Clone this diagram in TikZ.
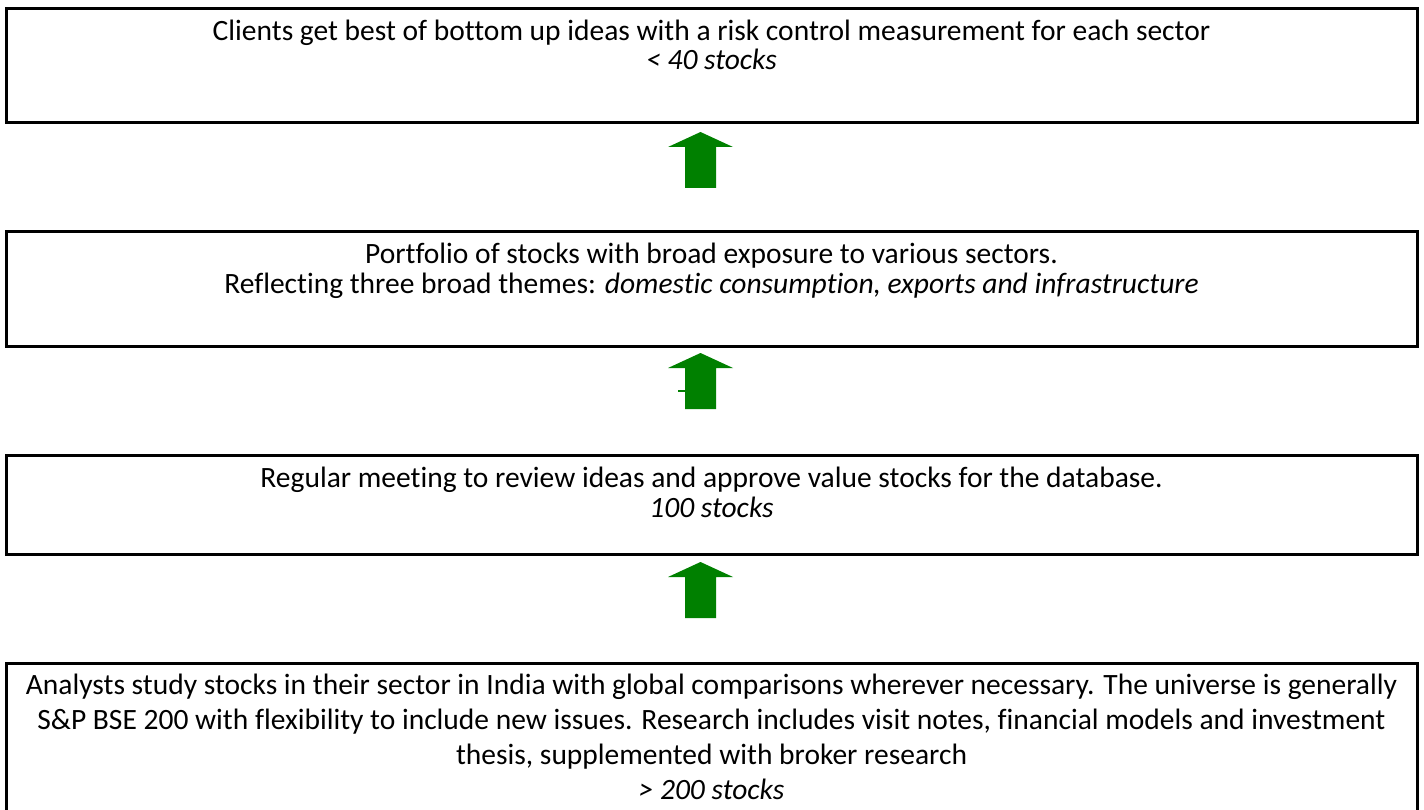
\documentclass[tikz,border=0pt]{standalone}
\usepackage{fontspec}
\setmainfont{Carlito}[RawFeature={-liga;-clig;-calt;-rlig;-dlig}]
\usetikzlibrary{positioning,calc}

\definecolor{arrgreen}{RGB}{0,128,0}

\tikzset{
  stagebox/.style={draw, line width=3pt, minimum width=1411pt, inner sep=0pt, outer sep=0pt},
  stagetxt/.style={align=center, inner sep=0pt, outer sep=0pt, font=\fontsize{29.5}{#1}\selectfont},
  uparr/.pic={\fill[arrgreen] (0,0) -- (32.5,15) -- (15.5,15) -- (15.5,56) -- (-15.5,56) -- (-15.5,15) -- (-32.5,15) -- cycle;}
}

\begin{document}
\begin{tikzpicture}[x=1pt, y=-1pt, node distance=109pt]

    \clip (0,0) rectangle (1424,810);
    \useasboundingbox (0,0) rectangle (1424,810);

    % the four stages, top to bottom
    \node[stagebox, minimum height=114pt] (b1) at (711.5,66) {};
    \node[stagebox, minimum height=114pt, below=of b1] (b2) {};
    \node[stagebox, minimum height=99pt,  below=of b2] (b3) {};
    \node[stagebox, minimum height=190pt, below=of b3] (b4) {};

    \node[stagetxt=29pt, below=11pt of b1.north] (t1)
      {Clients get best of bottom up ideas with a risk control measurement for each sector\\ \textit{< 40 stocks}};
    \node[stagetxt=30pt, below=11pt of b2.north] (t2)
      {Portfolio of stocks with broad exposure to various sectors.\\
       Reflecting three broad themes: \textit{domestic consumption, exports and infrastructure}};
    \node[stagetxt=30pt, below=12pt of b3.north] (t3)
      {Regular meeting to review ideas and approve value stocks for the database.\\ \textit{100 stocks}};
    \node[stagetxt=35pt, below=11pt of b4.north] (t4)
      {Analysts study stocks in their sector in India with global comparisons wherever necessary. The universe is generally\\
       S\&P BSE 200 with flexibility to include new issues. Research includes visit notes, financial models and investment\\
       thesis, supplemented with broker research\\ \textit{> 200 stocks}};

    % green block arrows between the stages
    \pic at ($(b1.south)+(-11,9)$) {uparr};
    \pic at ($(b2.south)+(-11,7)$) {uparr};
    \fill[arrgreen] ($(b2.south)+(-33.5,44)$) rectangle ++(8,2);
    \pic at ($(b3.south)+(-11,8)$) {uparr};

\end{tikzpicture}
\end{document}
